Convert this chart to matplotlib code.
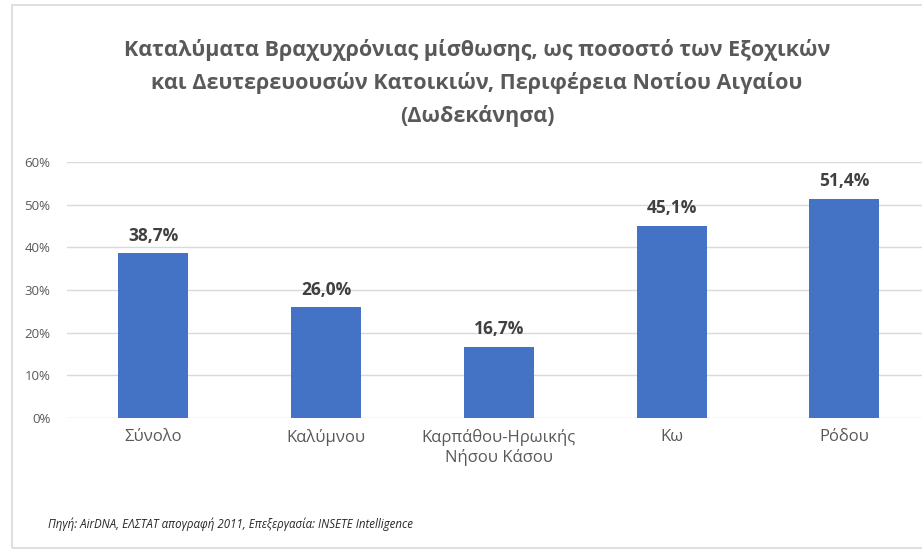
import matplotlib.pyplot as plt
from matplotlib.patches import Rectangle
from matplotlib.ticker import PercentFormatter

categories = ['Σύνολο', 'Καλύμνου', 'Καρπάθου-Ηρωικής\nΝήσου Κάσου', 'Κω', 'Ρόδου']
values = [38.7, 26.0, 16.7, 45.1, 51.4]
yticks = [0, 10, 20, 30, 40, 50, 60]

title = ('Καταλύματα Βραχυχρόνιας μίσθωσης, ως ποσοστό των Εξοχικών\n'
         'και Δευτερευουσών Κατοικιών, Περιφέρεια Νοτίου Αιγαίου\n'
         '(Δωδεκάνησα)')
source = 'Πηγή: AirDNA, ΕΛΣΤΑΤ απογραφή 2011, Επεξεργασία: INSETE Intelligence'

plt.rcParams['font.family'] = ['Open Sans', 'DejaVu Sans']
grey = '#595959'

fig = plt.figure(figsize=(9.22, 5.53), dpi=100)

# outer chart frame
fig.patches.append(Rectangle((12 / 922, 5 / 553), 1.0, 543 / 553, transform=fig.transFigure,
                             fill=False, edgecolor='#D9D9D9', linewidth=1.2))

ax = fig.add_axes([67 / 922, 135 / 553, 855 / 922, 256 / 553])
x = range(len(categories))
bars = ax.bar(x, values, width=0.405, color='#4472C4', zorder=3)
ax.set_xlim(-0.5, 4.45)
ax.set_ylim(0, 60)
ax.set_yticks(yticks)
ax.yaxis.set_major_formatter(PercentFormatter(decimals=0))
ax.grid(axis='y', color='#D9D9D9', linewidth=1, zorder=0)
for s in ax.spines.values():
    s.set_visible(False)
ax.tick_params(length=0)
ax.tick_params(axis='y', labelsize=9.5, labelcolor=grey, pad=12)
ax.set_xticks(list(x))
ax.set_xticklabels(categories, fontsize=12, color=grey, linespacing=1.2)
ax.tick_params(axis='x', pad=8)

for b, v in zip(bars, values):
    ax.annotate(f'{v:.1f}%'.replace('.', ','), (b.get_x() + b.get_width() / 2, v),
                xytext=(0, 6), textcoords='offset points', ha='center', va='bottom',
                fontsize=12.5, fontweight='bold', color='#404040')

fig.text(477 / 922, 1 - 39 / 553, title, ha='center', va='top', fontsize=15.5,
         fontweight='bold', color=grey, linespacing=1.65)
fig.text(48 / 922, 1 - 524 / 553, source, ha='left', va='center', fontsize=8.3,
         style='italic', color='#262626')

fig.savefig('out.png', dpi=100)
